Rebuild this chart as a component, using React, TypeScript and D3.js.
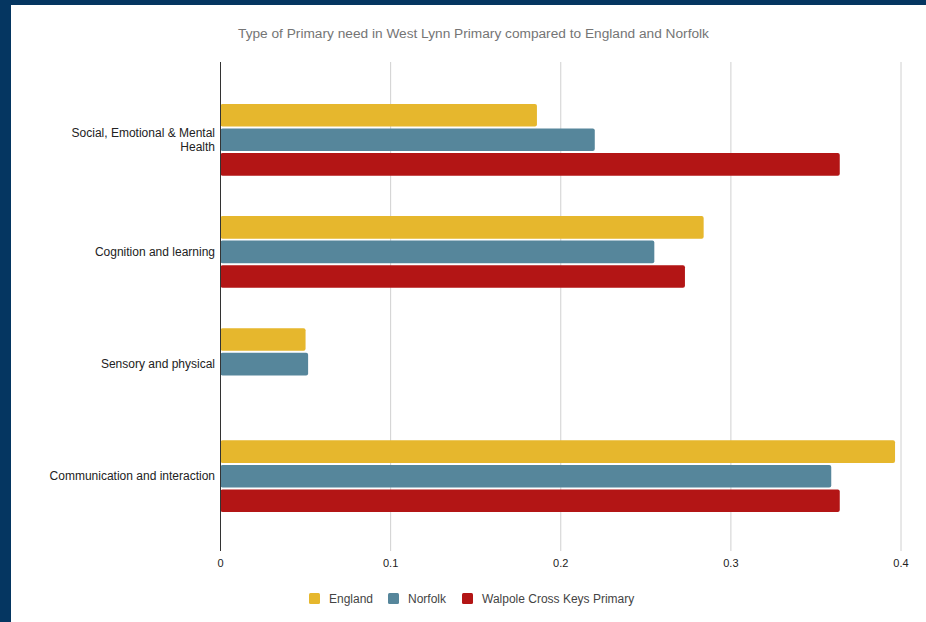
import React from "react";
import * as d3 from "d3";

const categories = [
  "Social, Emotional & Mental Health",
  "Cognition and learning",
  "Sensory and physical",
  "Communication and interaction",
];
const categoryLines = [
  ["Social, Emotional & Mental", "Health"],
  ["Cognition and learning"],
  ["Sensory and physical"],
  ["Communication and interaction"],
];
const seriesNames = ["England", "Norfolk", "Walpole Cross Keys Primary"];
const englandValues = [0.186, 0.284, 0.05, 0.3965];
const norfolkValues = [0.22, 0.255, 0.0515, 0.359];
const walpoleValues = [0.364, 0.273, 0, 0.364];
const seriesColors = ["#E6B72D", "#56869B", "#B31515"];
const xTicks = [0, 0.1, 0.2, 0.3, 0.4];
const title = "Type of Primary need in West Lynn Primary compared to England and Norfolk";

export default function App() {
  const W = 926, H = 622;
  const left = 220.5, right = 901, top = 62, bottom = 551;
  const x = d3.scaleLinear().domain([0, 0.4]).range([left, right]);
  const y = d3.scaleBand<string>().domain(categories).range([top + 1.5, bottom + 1.5]).padding(0.36);
  const sub = d3.scaleBand<string>().domain(seriesNames).range([0, y.bandwidth()]).paddingInner(0.08);
  const series = [englandValues, norfolkValues, walpoleValues];
  const font = "'Liberation Sans', Arial, sans-serif";
  const legendX = [309, 388, 462];
  return (
    <svg width={W} height={H} style={{ position: "fixed", left: 0, top: 0 }} fontFamily={font}>
      <rect x={0} y={0} width={W} height={H} fill="#053661" />
      <rect x={11} y={5} width={W - 11} height={H - 5} fill="#ffffff" />
      <text x={473.5} y={38} textAnchor="middle" fontSize={13.7} fill="#757575">{title}</text>
      {xTicks.map((t) => (
        <g key={t}>
          {t !== 0 && <line x1={x(t)} x2={x(t)} y1={top} y2={bottom} stroke="#d0d0d0" strokeWidth={1} />}
          <text x={x(t)} y={567} textAnchor="middle" fontSize={11} fill="#222">{t}</text>
        </g>
      ))}
      {categories.map((c, i) => (
        <g key={c}>
          {series.map((vals, s) =>
            vals[i] > 0 ? (
              <rect
                key={s}
                x={x(0)}
                y={(y(c) as number) + (sub(seriesNames[s]) as number)}
                width={x(vals[i]) - x(0)}
                height={sub.bandwidth()}
                rx={2}
                fill={seriesColors[s]}
              />
            ) : null
          )}
          {categoryLines[i].map((ln, k) => (
            <text
              key={k}
              x={215}
              y={(y(c) as number) + y.bandwidth() / 2 + 4 - (categoryLines[i].length - 1) * 6.5 + k * 13.5}
              textAnchor="end"
              fontSize={12}
              fill="#222"
            >
              {ln}
            </text>
          ))}
        </g>
      ))}
      <line x1={x(0)} x2={x(0)} y1={top} y2={bottom} stroke="#333" strokeWidth={1} />
      {seriesNames.map((n, s) => (
        <g key={n}>
          <rect x={legendX[s]} y={593} width={11} height={11} rx={1.5} fill={seriesColors[s]} />
          <text x={legendX[s] + 20} y={603} fontSize={12} fill="#444">{n}</text>
        </g>
      ))}
    </svg>
  );
}
